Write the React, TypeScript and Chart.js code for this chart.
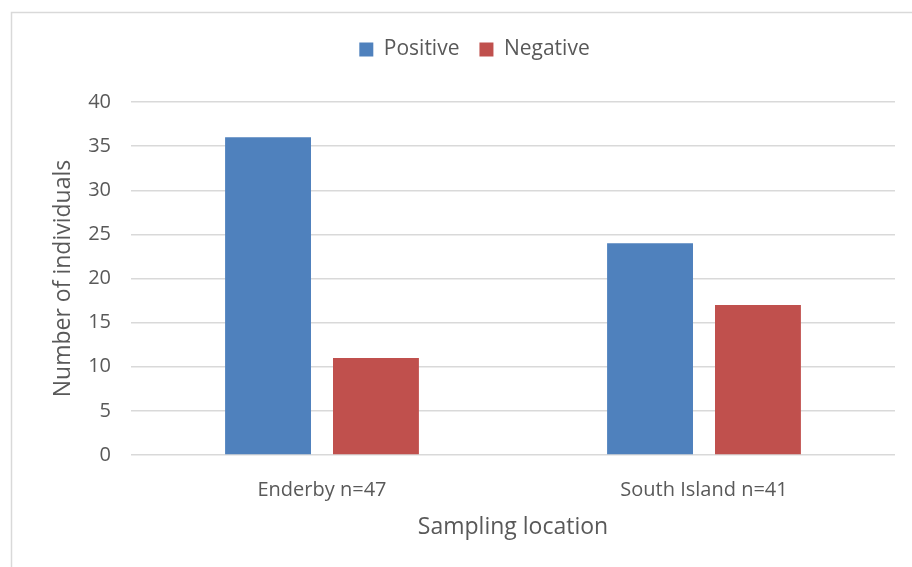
import React, { useEffect, useRef } from "react";
import { Chart, registerables } from "chart.js";

Chart.register(...registerables);

const locations = ["Enderby n=47", "South Island n=41"];
const positiveCounts = [36, 24];
const negativeCounts = [11, 17];
const yTicks = [0, 5, 10, 15, 20, 25, 30, 35, 40];

const FONT = "'Open Sans', 'Noto Sans', sans-serif";
const TEXT = "#595959";
const GRID = "#d9d9d9";

// Light frame around the chart, open to the right and bottom edges
const framePlugin = {
  id: "frame",
  beforeDraw(chart: any) {
    const { ctx, width, height } = chart;
    ctx.save();
    ctx.fillStyle = "#ffffff";
    ctx.fillRect(0, 0, width, height);
    ctx.strokeStyle = GRID;
    ctx.lineWidth = 1.5;
    ctx.strokeRect(11.5, 12.5, width + 10, height + 10);
    ctx.restore();
  },
};

export default function App() {
  const ref = useRef<HTMLCanvasElement>(null);

  useEffect(() => {
    document.body.style.margin = "0";
    const chart = new Chart(ref.current!, {
      type: "bar",
      data: {
        labels: locations,
        datasets: [
          {
            label: "Positive",
            data: positiveCounts,
            backgroundColor: "#4f81bd",
            xAxisID: "x",
            yAxisID: "y",
            categoryPercentage: 0.565,
            barPercentage: 0.796,
          },
          {
            label: "Negative",
            data: negativeCounts,
            backgroundColor: "#c0504d",
            xAxisID: "x",
            yAxisID: "y",
            categoryPercentage: 0.565,
            barPercentage: 0.796,
          },
        ],
      },
      options: {
        animation: false,
        responsive: false,
        maintainAspectRatio: false,
        layout: { padding: { top: 19, right: 17, left: 54, bottom: 24 } },
        plugins: {
          tooltip: { enabled: false },
          legend: {
            position: "top",
            labels: {
              color: TEXT,
              font: { family: FONT, size: 21 },
              boxWidth: 14,
              boxHeight: 14,
              padding: 20,
            },
          },
        },
        scales: {
          x: {
            grid: { display: false, drawTicks: false },
            border: { display: false },
            ticks: { color: TEXT, font: { family: FONT, size: 20 }, padding: 23 },
            title: {
              display: true,
              text: "Sampling location",
              color: TEXT,
              font: { family: FONT, size: 23 },
              padding: { top: 4, bottom: 2 },
            },
            afterFit(scale: any) {
              scale.height = 88;
            },
          },
          // empty band between the legend and the plot
          gap: {
            type: "linear",
            position: "top",
            display: true,
            grid: { display: false, drawTicks: false },
            border: { display: false },
            ticks: { display: false },
            afterFit(scale: any) {
              scale.height = 32;
            },
          },
          y: {
            min: 0,
            max: 40,
            afterBuildTicks(scale: any) {
              scale.ticks = yTicks.map((v) => ({ value: v }));
            },
            grid: { color: GRID, lineWidth: 1.5, drawTicks: false },
            border: { display: false },
            ticks: { color: TEXT, font: { family: FONT, size: 20 }, padding: 20 },
            title: {
              display: true,
              text: "Number of individuals",
              color: TEXT,
              font: { family: FONT, size: 23 },
              padding: { top: -4, bottom: 0 },
            },
            afterFit(scale: any) {
              scale.width = 77;
            },
          },
        },
      },
      plugins: [framePlugin],
    });
    return () => chart.destroy();
  }, []);

  return (
    <div style={{ position: "absolute", left: 0, top: 0, width: 912, height: 567 }}>
      <canvas ref={ref} width={912} height={567} />
    </div>
  );
}
